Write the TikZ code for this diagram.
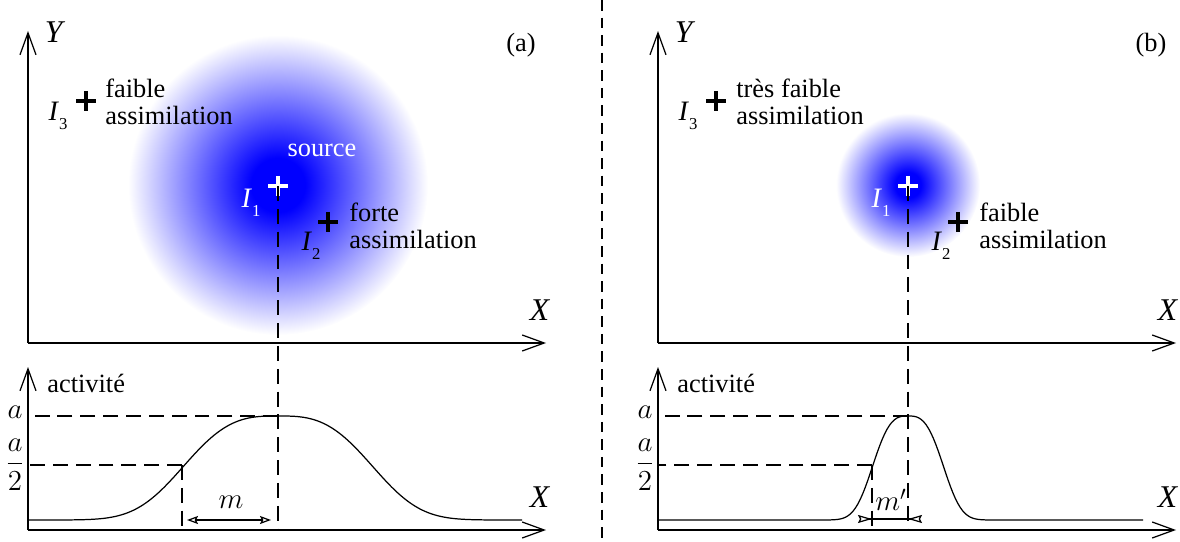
\documentclass[tikz,border=0pt]{standalone}
\usepackage{fix-cm}
\usepackage[no-math]{fontspec}
\setmainfont{Liberation Serif}
\usepackage{amsmath}
\usetikzlibrary{arrows.meta}
\pgfdeclareradialshading{glow}{\pgfpoint{0bp}{0bp}}{color(0bp)=(blue); color(4.5bp)=(blue); color(25bp)=(white); color(50bp)=(white)}
\newcommand{\Iidx}[1]{\textit{I}\raisebox{-0.7ex}{\fontsize{9.5}{10}\selectfont #1}}
\tikzset{
  axis/.style={line width=0.7pt, -{Straight Barb[length=4.4mm, width=3.2mm]}},
  guide/.style={line width=0.7pt, dash pattern=on 8.5pt off 4.5pt},
  profile/.style={line width=0.7pt},
  spread/.style={line width=0.7pt, {Stealth[open, length=2.2mm, width=1.6mm, inset=0.4mm]}-{Stealth[open, length=2.2mm, width=1.6mm, inset=0.4mm]}},
  spreadin/.style={line width=0.7pt, {Stealth[open, reversed, length=2.8mm, width=1.6mm, inset=0.4mm]}-{Stealth[open, reversed, length=2.8mm, width=1.6mm, inset=0.4mm]}},
  plusline/.style={line width=1.9pt},
  txt/.style={font=\fontsize{15}{15.3}\selectfont, inner sep=0pt},
  idx/.style={font=\fontsize{16}{16}\selectfont, inner sep=0pt},
  coord/.style={font=\fontsize{18}{18}\selectfont, inner sep=0pt},
  mth/.style={font=\fontsize{16.5}{17}\selectfont, inner sep=0pt},
  note/.style={txt, align=left, anchor=west},
}
\begin{document}
\begin{tikzpicture}[x=0.2mm, y=-0.2mm]
\useasboundingbox (0,0) rectangle (1180,542);

% ---- panel (a) : large source ----
\shade[shading=glow] (278,185) circle (150);
\coordinate (Oa) at (28,343);
\coordinate (Ya) at (28,31);
\coordinate (Xa) at (546,343);
\draw[axis] (Oa) -- (Ya);
\draw[axis] (Oa) -- (Xa);
\node[coord] (labYa) at (55,32) {\textit{Y}};
\node[coord] (labXa) at (540,310) {\textit{X}};
\node[txt] (tagA) at (521,45) {(a)};

\coordinate (I1a) at (278,186);
\coordinate (I2a) at (328,222);
\coordinate (I3a) at (86,101);
\draw[plusline, white] (I1a) +(-10,0) -- +(10,0) +(0,-10) -- +(0,10);
\draw[plusline] (I2a) +(-10,0) -- +(10,0) +(0,-10) -- +(0,10);
\draw[plusline] (I3a) +(-10,0) -- +(10,0) +(0,-10) -- +(0,10);
\node[txt, white] (srcA) at (322,150) {source};
\node[idx, white] (nI1a) at (251,203) {\Iidx{1}};
\node[idx] (nI2a) at (311,246) {\Iidx{2}};
\node[idx] (nI3a) at (58,116) {\Iidx{3}};
\node[note] (weakA) at (105,102) {faible\\assimilation};
\node[note] (strongA) at (349,226) {forte\\assimilation};

% activity profile (a)
\coordinate (Pa) at (28,530);
\coordinate (Aa) at (28,367);
\coordinate (Ra) at (546,530);
\draw[axis] (Pa) -- (Aa);
\draw[axis] (Pa) -- (Ra);
\node[txt, anchor=west] (actA) at (47,383) {activité};
\node[coord] (labX2a) at (540,497) {\textit{X}};
\node[mth] (topA) at (15,412) {$a$};
\node[mth] (halfA) at (15,465) {$\dfrac{a}{2}$};
\draw[profile] plot[domain=28:522, samples=160] (\x, {520-104*exp(-min(20,(abs(\x-278)/108.5)^3))});
\coordinate (peakA) at (278,416);
\coordinate (baseA) at (278,530);
\coordinate (hpA) at (182,465);
\coordinate (hbA) at (182,530);
\coordinate (aA) at (28,416);
\coordinate (a2A) at (28,465);
\draw[guide] (I1a) -- (baseA);
\draw[guide] (peakA) -- (aA);
\draw[guide] (hpA) -- (a2A);
\draw[guide] (hpA) -- (hbA);
\coordinate (mL) at (187,520);
\coordinate (mR) at (271,520);
\draw[spread] (mL) -- (mR);
\node[mth] (mA) at (231,502) {$m$};

% ---- separator ----
\coordinate (sepT) at (602,0);
\coordinate (sepB) at (602,542);
\draw[guide, dash pattern=on 6pt off 4pt] (sepT) -- (sepB);

% ---- panel (b) : small source ----
\shade[shading=glow] (908,185) circle (72);
\coordinate (Ob) at (658,343);
\coordinate (Yb) at (658,31);
\coordinate (Xb) at (1176,343);
\draw[axis] (Ob) -- (Yb);
\draw[axis] (Ob) -- (Xb);
\node[coord] (labYb) at (685,32) {\textit{Y}};
\node[coord] (labXb) at (1168,310) {\textit{X}};
\node[txt] (tagB) at (1151,45) {(b)};

\coordinate (I1b) at (908,186);
\coordinate (I2b) at (958,222);
\coordinate (I3b) at (716,101);
\draw[plusline, white] (I1b) +(-10,0) -- +(10,0) +(0,-10) -- +(0,10);
\draw[plusline] (I2b) +(-10,0) -- +(10,0) +(0,-10) -- +(0,10);
\draw[plusline] (I3b) +(-10,0) -- +(10,0) +(0,-10) -- +(0,10);
\node[idx, white] (nI1b) at (881,203) {\Iidx{1}};
\node[idx] (nI2b) at (941,246) {\Iidx{2}};
\node[idx] (nI3b) at (688,116) {\Iidx{3}};
\node[note] (weakB) at (736,102) {très faible\\assimilation};
\node[note] (strongB) at (979,226) {faible\\assimilation};

% activity profile (b)
\coordinate (Pb) at (658,530);
\coordinate (Ab) at (658,367);
\coordinate (Rb) at (1176,530);
\draw[axis] (Pb) -- (Ab);
\draw[axis] (Pb) -- (Rb);
\node[txt, anchor=west] (actB) at (677,383) {activité};
\node[coord] (labX2b) at (1168,497) {\textit{X}};
\node[mth] (topB) at (645,412) {$a$};
\node[mth] (halfB) at (645,465) {$\dfrac{a}{2}$};
\draw[profile] plot[domain=658:1143, samples=200] (\x, {520-104*exp(-min(20,(abs(\x-908)/40.7)^3))});
\coordinate (peakB) at (908,416);
\coordinate (baseB) at (908,530);
\coordinate (hpB) at (872,465);
\coordinate (hbB) at (872,530);
\coordinate (aB) at (658,416);
\coordinate (a2B) at (658,465);
\draw[guide] (I1b) -- (baseB);
\draw[guide] (peakB) -- (aB);
\draw[guide] (hpB) -- (a2B);
\draw[guide] (hpB) -- (hbB);
\coordinate (nL) at (858,519);
\coordinate (nR) at (922,519);
\draw[spreadin] (nL) -- (nR);
\node[mth] (mB) at (891,500) {$m'$};
\end{tikzpicture}
\end{document}
